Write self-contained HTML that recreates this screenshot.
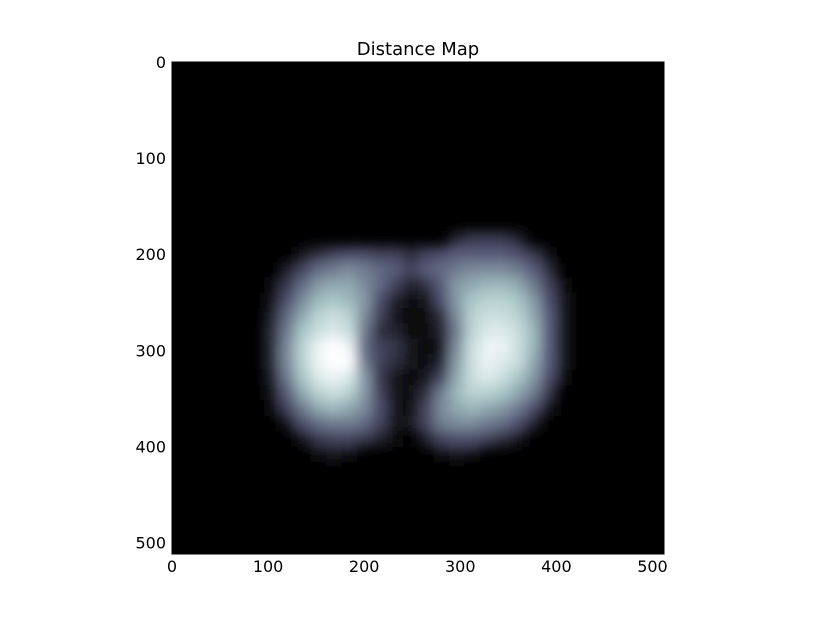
<!DOCTYPE html>
<html><head><meta charset="utf-8"><style>
body{margin:0;background:#fff;width:815px;height:615px;overflow:hidden}
svg text{font-family:"DejaVu Sans","Liberation Sans",sans-serif;font-size:16px;fill:#000}
</style></head><body>
<svg id="chart" width="815" height="615">
<defs>
<filter id="blur" x="-20%" y="-20%" width="140%" height="140%"><feGaussianBlur stdDeviation="6"/></filter>
<clipPath id="clip"><rect x="172" y="62" width="492" height="492"/></clipPath>
</defs>
<text x="418" y="55" text-anchor="middle" style="font-size:18px">Distance Map</text>
<rect x="172" y="62" width="492" height="492" fill="#000"/>
<g id="cells" clip-path="url(#clip)" filter="url(#blur)"></g>
<rect x="172" y="62" width="492" height="492" fill="none" stroke="#000" stroke-width="1"/>
<g id="ticks"></g>
</svg>
<script>
const xTicks=[0,100,200,300,400,500];
const yTicks=[0,100,200,300,400,500];
const cellSize=16;
const rowStartUnit=176;
const colStartUnit=96;
const r184=[0,0,0,0,0,0,0,0,0,0,0,0,.15,.25,.25,.25,.15,0,0,0];
const r200=[0,0,.1,.2,.3,.35,.35,.3,.3,.2,.3,.35,.4,.4,.4,.4,.35,.25,.05,0];
const r216=[0,.15,.3,.45,.5,.55,.5,.45,.4,.3,.4,.45,.5,.55,.55,.55,.5,.4,.2,0];
const r232=[.05,.25,.45,.6,.65,.65,.55,.45,.3,.15,.2,.4,.6,.65,.7,.7,.65,.5,.3,.05];
const r248=[.1,.35,.55,.7,.75,.7,.6,.35,.15,.05,.1,.35,.6,.75,.8,.8,.75,.6,.35,.1];
const r264=[.15,.45,.65,.8,.85,.8,.55,.3,.1,.05,.05,.2,.55,.8,.85,.85,.8,.65,.4,.1];
const r280=[.2,.5,.75,.85,.9,.85,.5,.2,.15,.05,.05,.15,.5,.8,.9,.9,.85,.7,.4,.1];
const r296=[.2,.55,.8,.95,1,.95,.45,.3,.25,.1,.05,.1,.55,.85,.95,.95,.85,.7,.4,.1];
const r312=[.2,.55,.8,.95,1,1,.5,.3,.2,.1,.05,.15,.6,.85,.95,.9,.85,.65,.4,.1];
const r328=[.15,.5,.75,.9,.95,.9,.6,.25,.1,.05,.1,.3,.65,.85,.9,.85,.75,.6,.35,.05];
const r344=[.1,.4,.65,.8,.85,.8,.6,.3,.1,.05,.2,.5,.7,.8,.8,.75,.65,.5,.25,0];
const r360=[.05,.3,.5,.65,.7,.65,.55,.35,.1,.05,.3,.55,.65,.7,.65,.6,.5,.35,.1,0];
const r376=[0,.1,.35,.45,.5,.5,.45,.3,.1,.1,.3,.5,.55,.55,.5,.45,.35,.15,0,0];
const r392=[0,0,.1,.25,.3,.3,.25,.15,.05,0,.15,.3,.35,.35,.3,.2,.1,0,0,0];
const r408=[0,0,0,.05,.1,.05,0,0,0,0,0,.05,.1,.05,0,0,0,0,0,0];
const grid=[r184,r200,r216,r232,r248,r264,r280,r296,r312,r328,r344,r360,r376,r392,r408];

const X0=172,Y0=62,S=492/512;
const sx=v=>X0+v*S, sy=v=>Y0+v*S;
function bone(v){
  let r=v<0.75?0.875*v:0.875*v+0.5*(v-0.75);
  let g=v<0.375?0.875*v:(v<0.75?0.875*v+0.333*(v-0.375):0.875*v+0.125);
  let b=v<0.375?0.875*v+0.333*v:0.875*v+0.125;
  const c=x=>Math.round(Math.min(1,x)*255);
  return `rgb(${c(r)},${c(g)},${c(b)})`;
}
const NS="http://www.w3.org/2000/svg";
const cells=document.getElementById('cells');
grid.forEach((row,ri)=>row.forEach((v,ci)=>{
  if(v<=0)return;
  const r=document.createElementNS(NS,'rect');
  const ux=colStartUnit+ci*cellSize, uy=rowStartUnit+ri*cellSize;
  r.setAttribute('x',sx(ux));r.setAttribute('y',sy(uy));
  r.setAttribute('width',cellSize*S+0.5);r.setAttribute('height',cellSize*S+0.5);
  r.setAttribute('fill',bone(v));
  
  
  cells.appendChild(r);
}));
const tg=document.getElementById('ticks');
xTicks.forEach(t=>{
  const x=sx(t);
  [[Y0,Y0+5],[Y0+492,Y0+487]].forEach(p=>{
    const l=document.createElementNS(NS,'line');
    l.setAttribute('x1',x);l.setAttribute('x2',x);l.setAttribute('y1',p[0]);l.setAttribute('y2',p[1]);
    l.setAttribute('stroke','#000');
    
    
    tg.appendChild(l);
  });
  const tx=document.createElementNS(NS,'text');
  tx.setAttribute('x',x);tx.setAttribute('y',572);tx.setAttribute('text-anchor','middle');
  tx.textContent=t;
  
  
  tg.appendChild(tx);
});
yTicks.forEach(t=>{
  const y=sy(t);
  [[X0,X0+5],[X0+492,X0+487]].forEach(p=>{
    const l=document.createElementNS(NS,'line');
    l.setAttribute('y1',y);l.setAttribute('y2',y);l.setAttribute('x1',p[0]);l.setAttribute('x2',p[1]);
    l.setAttribute('stroke','#000');
    
    
    tg.appendChild(l);
  });
  const tx=document.createElementNS(NS,'text');
  tx.setAttribute('x',166);tx.setAttribute('y',y+6);tx.setAttribute('text-anchor','end');
  tx.textContent=t;
  
  
  tg.appendChild(tx);
});
</script>
</body></html>
